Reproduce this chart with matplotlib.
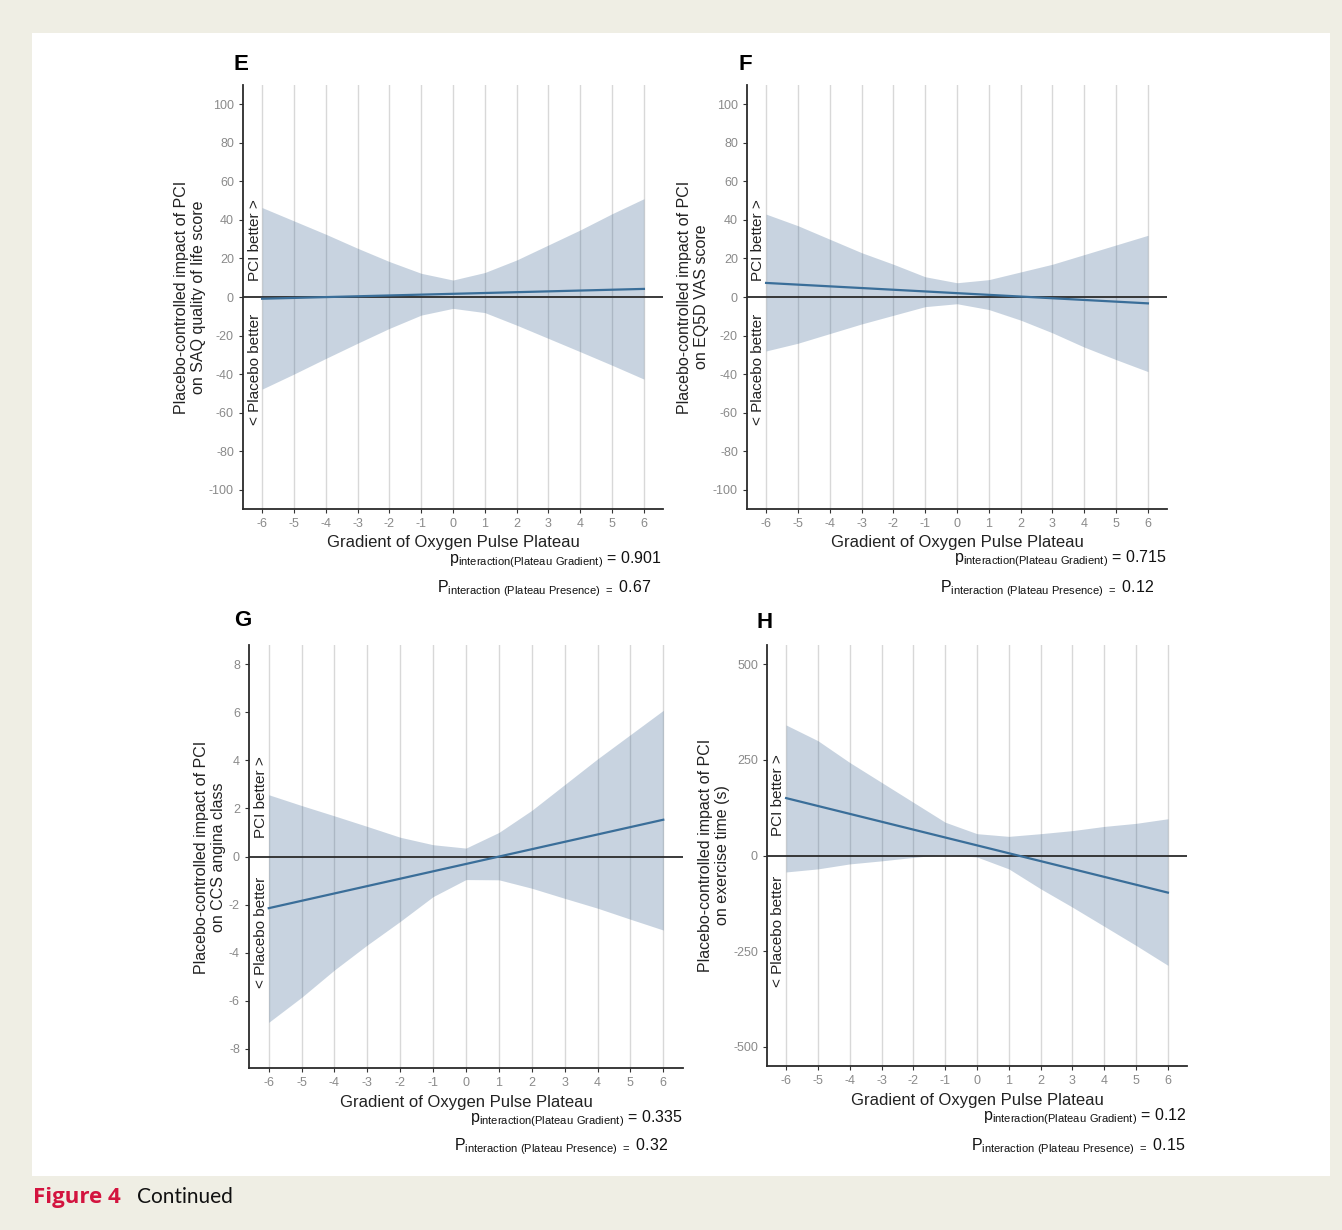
import matplotlib
matplotlib.use('Agg')
import matplotlib.pyplot as plt
import matplotlib.patches as patches

plt.rcParams['font.family'] = ['Liberation Sans', 'DejaVu Sans']
plt.rcParams['mathtext.fontset'] = 'custom'
plt.rcParams['mathtext.rm'] = 'Liberation Sans'
plt.rcParams['axes.unicode_minus'] = False

W, H = 1342, 1230

# gradiente do plateau (eixo x comum)
x_grad = [-6, -5, -4, -3, -2, -1, 0, 1, 2, 3, 4, 5, 6]
x_ticks = [-6, -5, -4, -3, -2, -1, 0, 1, 2, 3, 4, 5, 6]
fit_x = [-6, 6]

# E - SAQ quality of life
e_upper = [46.4, 39.5, 32.6, 25.3, 18.4, 12.3, 8.8, 12.7, 19.2, 27.0, 34.8, 43.2, 51.0]
e_lower = [-47.8, -40.0, -31.9, -24.0, -16.3, -9.4, -5.9, -8.1, -14.6, -21.5, -28.4, -35.4, -42.6]
e_fit = [-0.9, 4.2]

# F - EQ5D VAS
f_upper = [43, 37, 30, 23, 17, 10.5, 7.4, 9, 13, 17, 22, 27, 32]
f_lower = [-28, -24, -19, -14, -9.5, -5, -3.5, -6.5, -12, -18.6, -26, -32.5, -38.7]
f_fit = [7.3, -3.3]

# G - CCS angina class
g_upper = [2.57, 2.12, 1.69, 1.25, 0.8, 0.49, 0.35, 1.0, 1.92, 2.99, 4.06, 5.07, 6.08]
g_lower = [-6.9, -5.86, -4.72, -3.68, -2.7, -1.67, -0.96, -0.97, -1.32, -1.74, -2.15, -2.61, -3.06]
g_fit = [-2.15, 1.53]

# H - exercise time
h_upper = [341, 300, 243, 191, 139, 87, 57, 50, 57, 65, 76, 84, 96]
h_lower = [-43, -35, -22, -14, -5, 3, -4, -35, -87, -135, -185, -235, -287]
h_fit = [150, -97]

ylabels = ['Placebo-controlled impact of PCI\non SAQ quality of life score',
           'Placebo-controlled impact of PCI\non EQ5D VAS score',
           'Placebo-controlled impact of PCI\non CCS angina class',
           'Placebo-controlled impact of PCI\non exercise time (s)']
letras = ['E', 'F', 'G', 'H']
p_grad = ['0.901', '0.715', '0.335', '0.12']
p_pres = ['0.67', '0.12', '0.32', '0.15']


def fx(x):
    return x / W


def fy(y):
    return 1 - y / H


fig = plt.figure(figsize=(W / 100, H / 100), dpi=100)
fig.patch.set_facecolor('#EFEEE4')
fig.patches.append(patches.Rectangle((fx(32), fy(1176)), fx(1330) - fx(32), fy(33) - fy(1176),
                                     transform=fig.transFigure, facecolor='white', edgecolor='none',
                                     zorder=-10))

paineis = [
    dict(box=(243, 663, 85, 509), up=e_upper, lo=e_lower, fit=e_fit, ylim=(-110, 110),
         yt=[-100, -80, -60, -40, -20, 0, 20, 40, 60, 80, 100],
         letra=(241, 65), ylab=(190, 297), better=(255, 281, 314), xlab=(453, 543),
         p1=(662, 560), p2=(651, 589)),
    dict(box=(747, 1167, 85, 509), up=f_upper, lo=f_lower, fit=f_fit, ylim=(-110, 110),
         yt=[-100, -80, -60, -40, -20, 0, 20, 40, 60, 80, 100],
         letra=(745, 65), ylab=(693, 297), better=(758, 281, 314), xlab=(957, 543),
         p1=(1167, 559), p2=(1154, 589)),
    dict(box=(249, 683, 645, 1068), up=g_upper, lo=g_lower, fit=g_fit, ylim=(-8.8, 8.8),
         yt=[-8, -6, -4, -2, 0, 2, 4, 6, 8],
         letra=(243, 620), ylab=(210, 857), better=(261, 838, 877), xlab=(466, 1103),
         p1=(683, 1119), p2=(668, 1147)),
    dict(box=(767, 1187, 645, 1066), up=h_upper, lo=h_lower, fit=h_fit, ylim=(-550, 550),
         yt=[-500, -250, 0, 250, 500],
         letra=(765, 622), ylab=(714, 855), better=(778, 836, 876), xlab=(977, 1101),
         p1=(1187, 1117), p2=(1185, 1147)),
]

for i, p in enumerate(paineis):
    l, r, t, b = p['box']
    ax = fig.add_axes([fx(l), fy(b), fx(r) - fx(l), fy(t) - fy(b)])
    ax.set_facecolor('white')
    ax.set_xlim(-6.6, 6.6)
    ax.set_ylim(*p['ylim'])
    for xv in x_ticks:
        ax.axvline(xv, color='#D8D8D8', lw=1.0, zorder=1)
    ax.fill_between(x_grad, p['lo'], p['up'], color='#3B6491', alpha=0.28, lw=0, zorder=2)
    ax.axhline(0, color='#2B2B2B', lw=1.3, zorder=3)
    ax.plot(fit_x, p['fit'], color='#3A6E99', lw=1.6, zorder=4)
    ax.set_xticks(x_ticks)
    ax.set_yticks(p['yt'])
    ax.tick_params(axis='both', colors='#333333', labelcolor='#8A8A8A', labelsize=9,
                   length=3, width=0.8)
    for s in ['top', 'right']:
        ax.spines[s].set_visible(False)
    for s in ['left', 'bottom']:
        ax.spines[s].set_color('#2B2B2B')
        ax.spines[s].set_linewidth(1.3)

    fig.text(fx(p['letra'][0]), fy(p['letra'][1]), letras[i], fontsize=16, fontweight='bold',
             ha='center', va='center')
    fig.text(fx(p['ylab'][0]), fy(p['ylab'][1]), ylabels[i], fontsize=11.5, rotation=90,
             ha='center', va='center', multialignment='center', color='#222222',
             linespacing=1.1)
    bx, by1, by2 = p['better']
    fig.text(fx(bx), fy(by1), 'PCI better >', fontsize=11, rotation=90, ha='center', va='bottom',
             color='#222222')
    fig.text(fx(bx), fy(by2), '< Placebo better', fontsize=11, rotation=90, ha='center', va='top',
             color='#222222')
    fig.text(fx(p['xlab'][0]), fy(p['xlab'][1]), 'Gradient of Oxygen Pulse Plateau', fontsize=12,
             ha='center', va='center', color='#222222')
    fig.text(fx(p['p1'][0]), fy(p['p1'][1]),
             r'$\mathregular{p_{interaction(Plateau\ Gradient)}}$ = ' + p_grad[i],
             fontsize=11.5, ha='right', va='center', color='#111111')
    fig.text(fx(p['p2'][0]), fy(p['p2'][1]),
             r'$\mathregular{P_{interaction\ (Plateau\ Presence)\ =}}$ ' + p_pres[i],
             fontsize=11.5, ha='right', va='center', color='#111111')

fig.text(fx(33), fy(1197), 'Figure 4', fontsize=16, fontweight='bold', color='#D3143F',
         family=['Open Sans', 'DejaVu Sans'], ha='left', va='center')
fig.text(fx(137), fy(1197), 'Continued', fontsize=15, color='#111111',
         family=['Lato', 'DejaVu Sans'], ha='left', va='center')

fig.savefig('out.png', dpi=100, facecolor=fig.get_facecolor())
